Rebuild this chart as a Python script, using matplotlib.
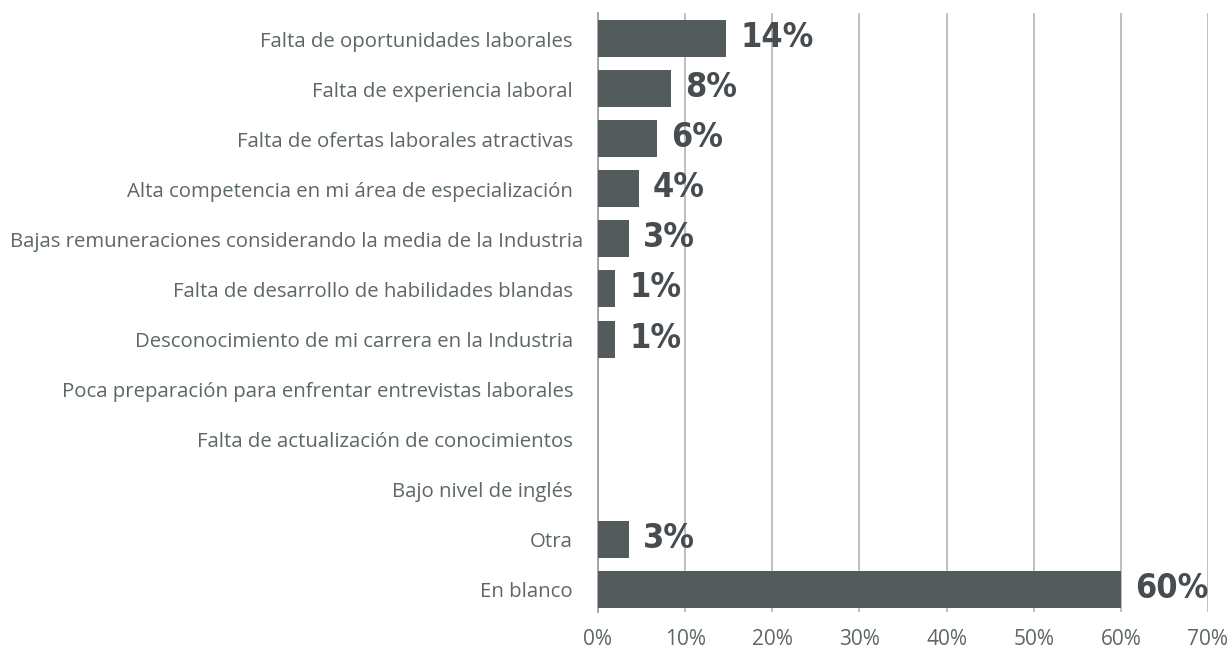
import matplotlib.pyplot as plt
from matplotlib.transforms import offset_copy, blended_transform_factory

categorias = [
    "Falta de oportunidades laborales",
    "Falta de experiencia laboral",
    "Falta de ofertas laborales atractivas",
    "Alta competencia en mi área de especialización",
    "Bajas remuneraciones considerando la media de la Industria",
    "Falta de desarrollo de habilidades blandas",
    "Desconocimiento de mi carrera en la Industria",
    "Poca preparación para enfrentar entrevistas laborales",
    "Falta de actualización de conocimientos",
    "Bajo nivel de inglés",
    "Otra",
    "En blanco",
]
# largo de las barras (en %)
valores = [14.7, 8.4, 6.8, 4.7, 3.6, 2.0, 2.0, 0, 0, 0, 3.6, 60.0]
etiquetas = ["14%", "8%", "6%", "4%", "3%", "1%", "1%", "", "", "", "3%", "60%"]
ticks = [0, 10, 20, 30, 40, 50, 60, 70]

gris_barra = "#535b5c"
gris_texto = "#5d6668"

fig = plt.figure(figsize=(12.32, 6.49), dpi=100)
ax = fig.add_axes([598 / 1232, 1 - 612 / 649, 610 / 1232, 599 / 649])

pos = list(range(len(categorias)))
ax.barh(pos, valores, height=0.74, color=gris_barra, zorder=3)

for p, v, et in zip(pos, valores, etiquetas):
    if not et:
        continue
    tr = offset_copy(ax.transData, fig=fig, x=14, y=1, units="dots")
    ax.text(v, p, et, transform=tr, ha="left", va="center",
            fontsize=24.5, fontweight="bold", fontstretch="condensed",
            color="#464c4f", family="DejaVu Sans", zorder=4)

# etiquetas de categorias (la larga sobresale un poco a la derecha)
bt = blended_transform_factory(ax.transAxes, ax.transData)
for p, cat in zip(pos, categorias):
    dx = -15 if cat.startswith("Bajas") else -25
    tr = offset_copy(bt, fig=fig, x=dx, y=-3, units="dots")
    ax.text(0, p, cat, transform=tr, ha="right", va="center",
            fontsize=14.7, family="Open Sans", color=gris_texto)

ax.set_xlim(0, 70)
ax.set_ylim(11.45, -0.51)
ax.set_xticks(ticks)
ax.set_xticklabels([f"{t}%" for t in ticks])
ax.set_yticks([])

for lab in ax.get_xticklabels():
    lab.set_fontfamily("Open Sans")
    lab.set_fontsize(15)
    lab.set_color(gris_texto)

ax.tick_params(axis="x", length=0, pad=12)
ax.grid(axis="x", color="#b4b4b4", linewidth=1.2, zorder=0)
for s in ["top", "right", "bottom"]:
    ax.spines[s].set_visible(False)
ax.spines["left"].set_color("#9a9a9a")
ax.spines["left"].set_linewidth(1.2)

fig.savefig("out.png", dpi=100)
